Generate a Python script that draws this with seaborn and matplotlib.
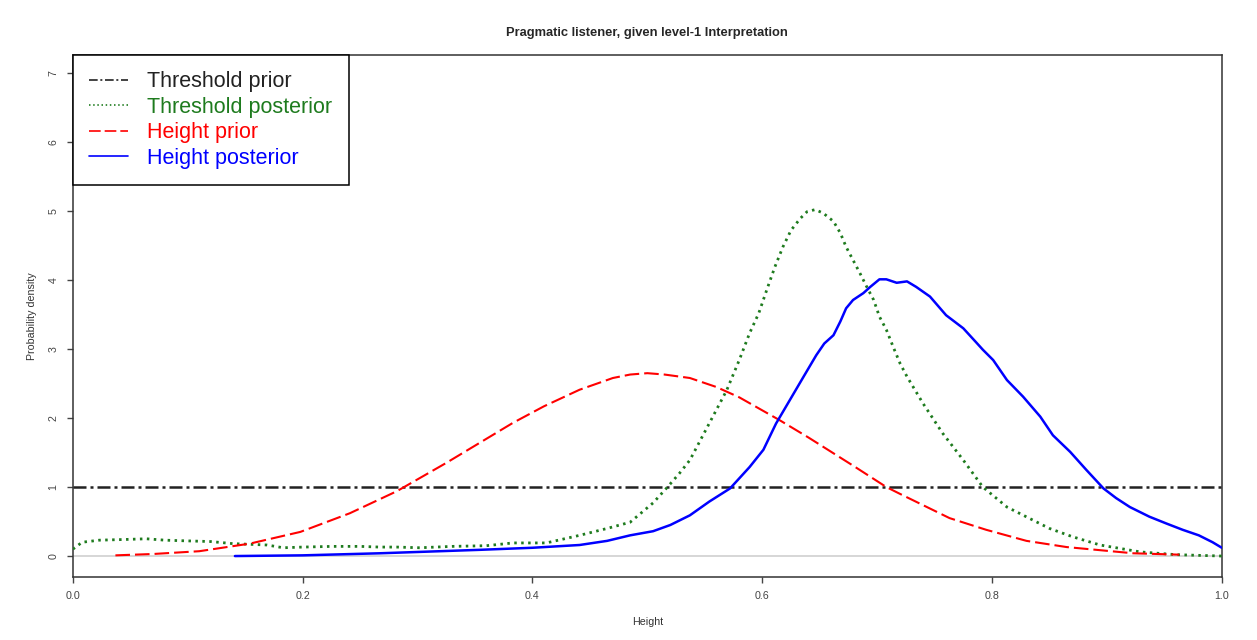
import matplotlib
matplotlib.use('Agg')
import matplotlib.pyplot as plt
import seaborn as sns
import pandas as pd

# --- values ---
threshold_prior_x = [0.0, 1.0]
threshold_prior_y = [1.0, 1.0]

threshold_post_x = [0.0, 0.008, 0.023, 0.045, 0.064, 0.08, 0.099, 0.12, 0.139, 0.169,
                    0.183, 0.2, 0.226, 0.25, 0.267, 0.282, 0.302, 0.33, 0.36, 0.383,
                    0.412, 0.441, 0.465, 0.485, 0.505, 0.517, 0.528, 0.537, 0.55, 0.569,
                    0.58, 0.589, 0.597, 0.604, 0.611, 0.618, 0.625, 0.633, 0.639, 0.646,
                    0.653, 0.662, 0.668, 0.673, 0.679, 0.685, 0.691, 0.697, 0.702, 0.708,
                    0.714, 0.72, 0.726, 0.74, 0.757, 0.775, 0.792, 0.813, 0.85, 0.87,
                    0.894, 0.929, 0.96, 1.0]
threshold_post_y = [0.1, 0.2, 0.23, 0.24, 0.25, 0.23, 0.22, 0.21, 0.18, 0.16,
                    0.12, 0.13, 0.14, 0.14, 0.13, 0.13, 0.12, 0.14, 0.15, 0.19,
                    0.19, 0.3, 0.4, 0.49, 0.77, 0.99, 1.2, 1.39, 1.8, 2.4,
                    2.84, 3.23, 3.52, 3.86, 4.19, 4.48, 4.72, 4.89, 4.99, 5.02,
                    4.97, 4.85, 4.68, 4.48, 4.29, 4.1, 3.9, 3.71, 3.47, 3.28,
                    3.03, 2.79, 2.6, 2.21, 1.78, 1.39, 1.0, 0.71, 0.4, 0.28,
                    0.16, 0.06, 0.02, 0.0]

height_prior_x = [0.037, 0.07, 0.11, 0.154, 0.198, 0.241, 0.282, 0.325, 0.35, 0.383,
                  0.41, 0.441, 0.47, 0.485, 0.5, 0.515, 0.537, 0.56, 0.58, 0.615,
                  0.64, 0.68, 0.708, 0.72, 0.763, 0.795, 0.83, 0.865, 0.923, 0.963]
height_prior_y = [0.01, 0.03, 0.07, 0.18, 0.35, 0.62, 0.94, 1.35, 1.6, 1.93,
                  2.17, 2.41, 2.58, 2.63, 2.65, 2.63, 2.58, 2.45, 2.3, 1.97,
                  1.72, 1.3, 1.0, 0.9, 0.55, 0.38, 0.22, 0.13, 0.04, 0.02]

height_post_x = [0.141, 0.2, 0.267, 0.354, 0.4, 0.441, 0.465, 0.485, 0.505, 0.52,
                 0.537, 0.554, 0.572, 0.589, 0.601, 0.612, 0.624, 0.636, 0.647, 0.654,
                 0.662, 0.668, 0.673, 0.679, 0.688, 0.694, 0.702, 0.708, 0.717, 0.726,
                 0.734, 0.746, 0.76, 0.775, 0.786, 0.792, 0.801, 0.813, 0.827, 0.842,
                 0.853, 0.868, 0.882, 0.897, 0.908, 0.92, 0.937, 0.952, 0.966, 0.98,
                 0.992, 1.0]
height_post_y = [0.0, 0.01, 0.04, 0.09, 0.12, 0.16, 0.22, 0.3, 0.36, 0.45,
                 0.59, 0.79, 0.98, 1.29, 1.54, 1.92, 2.26, 2.6, 2.91, 3.08,
                 3.2, 3.4, 3.59, 3.71, 3.81, 3.9, 4.01, 4.01, 3.96, 3.98,
                 3.9, 3.76, 3.49, 3.3, 3.1, 2.99, 2.84, 2.55, 2.31, 2.02,
                 1.75, 1.51, 1.25, 0.98, 0.84, 0.71, 0.57, 0.47, 0.38, 0.3,
                 0.2, 0.12]

x_ticks = [0.0, 0.2, 0.4, 0.6, 0.8, 1.0]
y_ticks = [0, 1, 2, 3, 4, 5, 6, 7]

series = [
    ('Threshold prior', threshold_prior_x, threshold_prior_y, '#222222', (0, (5.2, 1.6, 1.2, 1.6)), 1.8),
    ('Threshold posterior', threshold_post_x, threshold_post_y, '#1e7b1e', (0, (0.9, 1.6)), 2.0),
    ('Height prior', height_prior_x, height_prior_y, '#ff0000', (0, (7.0, 2.4)), 1.5),
    ('Height posterior', height_post_x, height_post_y, '#0000ff', '-', 1.8),
]

sns.set_style('ticks')
plt.rcParams['font.family'] = ['Liberation Sans', 'DejaVu Sans']

fig = plt.figure(figsize=(12.57, 6.4), dpi=100)
ax = fig.add_axes([0.058, 0.0984, 0.914, 0.8156])

# zero baseline as drawn by R's density plot
ax.axhline(0, color='#d3d3d3', lw=1.3, zorder=1)

for label, xs, ys, color, ls, lw in series:
    df = pd.DataFrame({'x': xs, 'y': ys})
    sns.lineplot(data=df, x='x', y='y', ax=ax, color=color, linestyle=ls,
                 linewidth=lw, label=label, sort=False, estimator=None, zorder=3)

ax.set_xlim(0, 1)
ax.set_ylim(-0.304, 7.26)
ax.set_xticks(x_ticks)
ax.set_xticklabels([f'{t:.1f}' for t in x_ticks])
ax.set_yticks(y_ticks)
ax.set_yticklabels([str(t) for t in y_ticks], rotation=90, va='center')

ax.set_title('Pragmatic listener, given level-1 Interpretation',
             fontsize=9.3, fontweight='bold', pad=14)
ax.set_xlabel('Height', fontsize=7.7, color='#333333', labelpad=11)
ax.set_ylabel('Probability density', fontsize=7.7, color='#333333', labelpad=8)

for sp in ax.spines.values():
    sp.set_visible(True)
    sp.set_color('#333333')
    sp.set_linewidth(1.1)
ax.tick_params(axis='both', direction='out', length=4.3, width=1.0,
               color='#444444', labelsize=7.7, labelcolor='#444444')
ax.tick_params(axis='x', pad=6)
ax.tick_params(axis='y', pad=6)

leg = ax.legend(loc='upper left', bbox_to_anchor=(0, 1), borderaxespad=0,
                fontsize=15.5, frameon=True, fancybox=False, edgecolor='black',
                framealpha=1, handlelength=1.8, handletextpad=0.9,
                labelspacing=0.21, borderpad=0.76, labelcolor='linecolor')
leg.get_frame().set_linewidth(1.1)
for line in leg.get_lines():
    line.set_linewidth(1.2)

fig.savefig('out.png', dpi=100, facecolor='white')
